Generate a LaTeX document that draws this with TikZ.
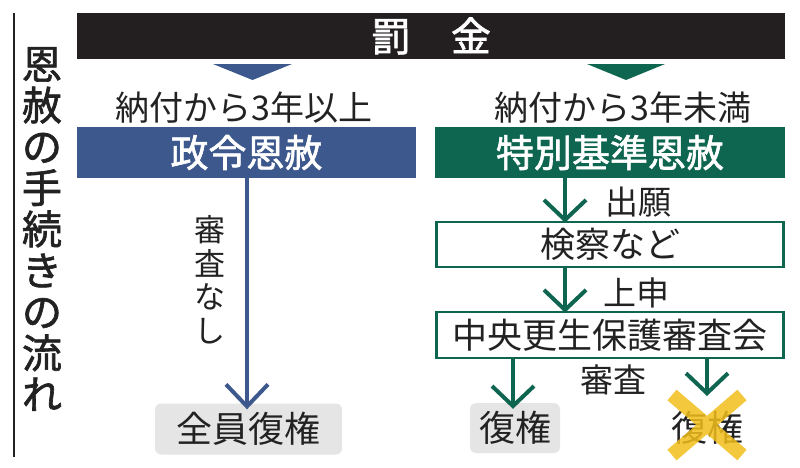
\documentclass[tikz,border=0pt]{standalone}
\usepackage{fontspec}
\newfontfamily\jp{Noto Sans CJK JP}
\newfontfamily\jpm[FakeBold=1.6]{Noto Sans CJK JP}
\usetikzlibrary{arrows.meta}
\definecolor{gblue}{HTML}{3C588C}
\definecolor{ggreen}{HTML}{0F6650}
\definecolor{gblack}{HTML}{231F20}
\definecolor{ggray}{HTML}{E5E5E5}
\definecolor{gyellow}{HTML}{F2BE1A}
\definecolor{gtext}{HTML}{222222}
\tikzset{
  bar/.style={fill=gblack, inner sep=0, minimum width=708pt, minimum height=46pt, text=white, font=\jpm\fontsize{40}{40}\selectfont},
  bluebox/.style={fill=gblue, inner sep=0, minimum width=339pt, minimum height=51pt, text=white, font=\jpm\fontsize{38}{38}\selectfont},
  greenbox/.style={fill=ggreen, inner sep=0, minimum width=350pt, minimum height=51pt, text=white, font=\jpm\fontsize{38}{38}\selectfont},
  wbox/.style={draw=ggreen, line width=2.6pt, fill=white, inner sep=0, minimum width=347pt, text=gtext, font=\jp\fontsize{35}{35}\selectfont},
  result/.style={fill=ggray, rounded corners=6pt, inner sep=0, minimum height=51pt, text=gtext, font=\jp\fontsize{36}{36}\selectfont},
  lbl/.style={inner sep=0, text=gtext, font=\jp\fontsize{#1}{#1}\selectfont},
  barrow/.style={draw=gblue, line width=4pt, -{Straight Barb[length=22pt, width=42pt, line width=4pt]}},
  garrow/.style={draw=ggreen, line width=4pt, -{Straight Barb[length=20pt, width=42pt, line width=4pt]}},
}
\begin{document}
\begin{tikzpicture}[x=1pt, y=-1pt]
\useasboundingbox (0,0) rectangle (800,467);
% left title
\draw[line width=1.5pt, gtext] (14,13) -- (14,457);
\node[inner sep=0, align=center, text=gtext, font=\jpm\fontsize{40}{41.3}\selectfont] (title) at (42,229) {恩\\赦\\の\\手\\続\\き\\の\\流\\れ};
% top bar
\node[bar] (fine) at (431,36) {罰　金};
\fill[gblue] (213,64) -- (292,64) -- (252.5,80) -- cycle;
\fill[ggreen] (587,64) -- (665,64) -- (626,80) -- cycle;
\node[lbl=34] (cond1) at (244,108) {納付から3年以上};
\node[lbl=34] (cond2) at (623,108) {納付から3年未満};
\node[bluebox] (seirei) at (246.5,152.5) {政令恩赦};
\node[greenbox] (tokubetsu) at (610,152.5) {特別基準恩赦};
% left branch
\node[result, minimum width=187pt] (zenin) at (248.5,429) {全員復権};
\node[inner sep=0, align=center, text=gtext, font=\jp\fontsize{31}{33.5}\selectfont] (nashi) at (210,280) {審\\査\\な\\し};
\draw[barrow] (seirei.south -| 247,0) -- ([yshift=-6pt]zenin.north -| 247,0);
% right branch
\coordinate (ax) at (565,0);
\node[wbox, minimum height=45pt] (kensatsu) at (610,244.5) {検察など};
\node[wbox, minimum height=46pt] (chuo) at (610,335) {中央更生保護審査会};
\draw[garrow] (tokubetsu.south -| ax) -- ([yshift=-2pt]kensatsu.north -| ax);
\draw[garrow] (kensatsu.south -| ax) -- ([yshift=-2pt]chuo.north -| ax);
\node[lbl=33] (shutsugan) at (638,202) {出願};
\node[lbl=33] (joshin) at (636,293) {上申};
\node[lbl=33] (shinsa) at (613,380) {審査};
\node[result, minimum width=90pt, minimum height=50pt] (fuku1) at (515,428) {復権};
\node[lbl=36] (fuku2) at (707,428) {復権};
\coordinate (lx) at (513,0);
\coordinate (rx) at (707,0);
\draw[garrow] (chuo.south -| lx) -- ([yshift=-6pt]fuku1.north -| lx);
\draw[garrow] (chuo.south -| rx) -- (rx |- 0,396);
% yellow cross
\draw[gyellow, line width=14pt, opacity=0.85] (672,395) -- (742,455) (742,395) -- (672,455);
\end{tikzpicture}
\end{document}
